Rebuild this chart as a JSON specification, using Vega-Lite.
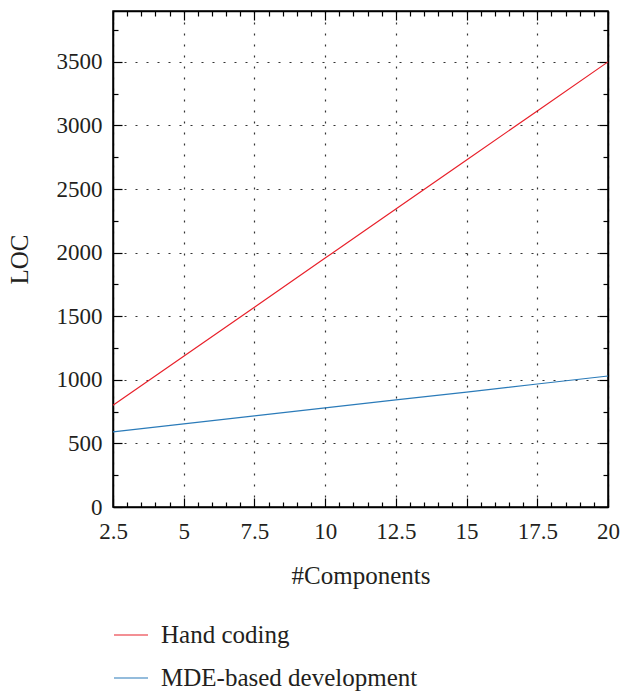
{
  "$schema": "https://vega.github.io/schema/vega-lite/v6.json",
  "width": 495,
  "height": 496,
  "autosize": {"type": "none"},
  "padding": {"left": 113, "top": 11, "right": 14, "bottom": 186},
  "background": "white",
  "config": {
    "font": "Liberation Serif",
    "view": {"stroke": "black", "strokeWidth": 1.5},
    "axis": {
      "domainColor": "black",
      "domainWidth": 1.5,
      "tickColor": "black",
      "tickWidth": 1.2,
      "labelFont": "Liberation Serif",
      "labelFontSize": 23,
      "labelColor": "#231f20",
      "titleFont": "Liberation Serif",
      "titleFontSize": 25,
      "titleFontWeight": "normal",
      "titleColor": "#231f20",
      "gridColor": "#333333",
      "gridDash": [2, 9],
      "gridWidth": 1.2
    }
  },
  "data": {
    "values": [
      {"n": 2.5, "loc": 800, "series": "Hand coding"},
      {"n": 5, "loc": 1186, "series": "Hand coding"},
      {"n": 7.5, "loc": 1571, "series": "Hand coding"},
      {"n": 10, "loc": 1957, "series": "Hand coding"},
      {"n": 12.5, "loc": 2343, "series": "Hand coding"},
      {"n": 15, "loc": 2729, "series": "Hand coding"},
      {"n": 17.5, "loc": 3114, "series": "Hand coding"},
      {"n": 20, "loc": 3500, "series": "Hand coding"},
      {"n": 2.5, "loc": 590, "series": "MDE-based development"},
      {"n": 5, "loc": 653, "series": "MDE-based development"},
      {"n": 7.5, "loc": 716, "series": "MDE-based development"},
      {"n": 10, "loc": 779, "series": "MDE-based development"},
      {"n": 12.5, "loc": 842, "series": "MDE-based development"},
      {"n": 15, "loc": 904, "series": "MDE-based development"},
      {"n": 17.5, "loc": 967, "series": "MDE-based development"},
      {"n": 20, "loc": 1030, "series": "MDE-based development"}
    ]
  },
  "layer": [
    {
      "mark": {"type": "line", "strokeWidth": 1.2},
      "encoding": {
        "x": {
          "field": "n",
          "type": "quantitative",
          "scale": {"domain": [2.5, 20], "nice": false, "zero": false},
          "axis": {
            "orient": "bottom",
            "title": "#Components",
            "titlePadding": 16,
            "format": "~g",
            "values": [2.5, 3, 3.5, 4, 4.5, 5, 5.5, 6, 6.5, 7, 7.5, 8, 8.5, 9, 9.5, 10, 10.5, 11, 11.5, 12, 12.5, 13, 13.5, 14, 14.5, 15, 15.5, 16, 16.5, 17, 17.5, 18, 18.5, 19, 19.5, 20],
            "labelExpr": "datum.value % 2.5 === 0 ? datum.label : ''",
            "labelFlush": false,
            "labelOverlap": false,
            "labelPadding": 22,
            "tickSize": {"condition": {"test": "datum.value % 2.5 === 0", "value": -9}, "value": -5},
            "gridOpacity": {"condition": {"test": "datum.value % 2.5 === 0", "value": 1}, "value": 0},
            "grid": true
          }
        },
        "y": {
          "field": "loc",
          "type": "quantitative",
          "scale": {"domain": [0, 3900], "nice": false},
          "axis": {
            "orient": "left",
            "title": "LOC",
            "titlePadding": 24,
            "format": "d",
            "values": [0, 250, 500, 750, 1000, 1250, 1500, 1750, 2000, 2250, 2500, 2750, 3000, 3250, 3500, 3750],
            "labelExpr": "datum.value % 500 === 0 ? datum.label : ''",
            "labelOverlap": false,
            "labelPadding": 20,
            "tickSize": {"condition": {"test": "datum.value % 500 === 0", "value": -9}, "value": -5},
            "gridOpacity": {"condition": {"test": "datum.value % 500 === 0", "value": 1}, "value": 0},
            "grid": true
          }
        },
        "color": {
          "field": "series",
          "type": "nominal",
          "scale": {"domain": ["Hand coding", "MDE-based development"], "range": ["#e8202a", "#2b7bb9"]},
          "legend": {
            "orient": "none",
            "legendX": 0,
            "legendY": 606,
            "title": null,
            "padding": 0,
            "symbolType": "stroke",
            "symbolSize": 1156,
            "symbolStrokeWidth": 1.2,
            "labelFontSize": 25,
            "labelFont": "Liberation Serif",
            "labelColor": "#231f20",
            "labelOffset": 12,
            "labelLimit": 0,
            "rowPadding": 12
          }
        }
      }
    },
    {
      "mark": {"type": "line", "opacity": 0},
      "encoding": {
        "x": {
          "field": "n",
          "type": "quantitative",
          "axis": {
            "orient": "top",
            "title": null,
            "labels": false,
            "grid": false,
            "values": [2.5, 3, 3.5, 4, 4.5, 5, 5.5, 6, 6.5, 7, 7.5, 8, 8.5, 9, 9.5, 10, 10.5, 11, 11.5, 12, 12.5, 13, 13.5, 14, 14.5, 15, 15.5, 16, 16.5, 17, 17.5, 18, 18.5, 19, 19.5, 20],
            "tickSize": {"condition": {"test": "datum.value % 2.5 === 0", "value": -9}, "value": -5}
          }
        },
        "y": {
          "field": "loc",
          "type": "quantitative",
          "axis": {
            "orient": "right",
            "title": null,
            "labels": false,
            "grid": false,
            "values": [0, 250, 500, 750, 1000, 1250, 1500, 1750, 2000, 2250, 2500, 2750, 3000, 3250, 3500, 3750],
            "tickSize": {"condition": {"test": "datum.value % 500 === 0", "value": -9}, "value": -5}
          }
        },
        "detail": {"field": "series", "type": "nominal"}
      }
    }
  ],
  "resolve": {"axis": {"x": "independent", "y": "independent"}}
}
